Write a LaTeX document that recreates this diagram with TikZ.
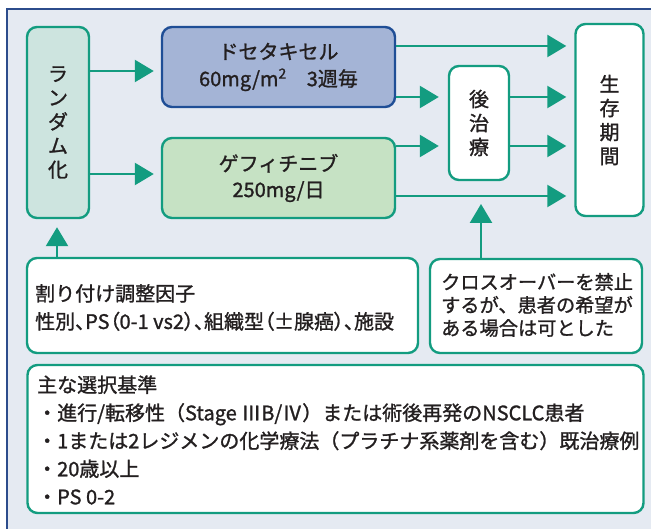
\documentclass[tikz,border=0pt]{standalone}
\usepackage{fontspec}
\setmainfont{Noto Sans CJK JP}[AutoFakeBold=1.2]
\newfontfamily\pfont{Noto Sans CJK JP}[AutoFakeBold=1.2,RawFeature=+palt]
\usetikzlibrary{arrows.meta}
\definecolor{tealc}{HTML}{139C80}
\definecolor{bgc}{HTML}{E5EAF2}
\definecolor{framec}{HTML}{2C4C8C}
\definecolor{docfill}{HTML}{A4B4D6}
\definecolor{docline}{HTML}{1F4E96}
\definecolor{geffill}{HTML}{C6E2C4}
\definecolor{randfill}{HTML}{CDE4DF}
\definecolor{txt}{HTML}{231F20}
\begin{document}
\begin{tikzpicture}[x=1pt,y=-1pt,
  box/.style={draw=tealc, line width=2.4pt, rounded corners=10pt, inner sep=0pt, anchor=center, text=txt},
  arr/.style={draw=tealc, line width=2.4pt, -{Triangle[length=19pt,width=22pt]}, shorten >=7pt},
  vert/.style={font=\fontsize{20}{24}\selectfont\bfseries, align=center},
  para/.style={anchor=west, align=left, inner sep=0pt, text=txt}
]
\useasboundingbox (0,0) rectangle (651,529);
\fill[bgc] (7,9) rectangle (651,529);
\draw[framec, line width=1.2pt] (7,529) -- (7,9) -- (651,9);

\node[box, fill=randfill, minimum width=62pt, minimum height=191pt, vert] (rand) at (58,122.5) {ラ\\ン\\ダ\\ム\\化};
\node[box, draw=docline, fill=docfill, minimum width=233pt, minimum height=80pt, align=center, font=\fontsize{20}{27}\selectfont\bfseries] (doc) at (278.5,67) {ドセタキセル\\60mg/m\textsuperscript{2}\quad 3週毎};
\node[box, fill=geffill, minimum width=233pt, minimum height=80pt, align=center, font=\fontsize{20}{26}\selectfont\bfseries] (gef) at (278.5,178) {ゲフィチニブ\\250mg/日};
\node[box, fill=white, minimum width=60pt, minimum height=114pt, vert] (post) at (479,123) {後\\治\\療};
\node[box, fill=white, minimum width=68pt, minimum height=192pt, vert] (surv) at (609.5,120) {生\\存\\期\\間};

\node[box, fill=white, minimum width=391pt, minimum height=95pt] (alloc) at (222.5,305.5) {};
\node[para, font=\fontsize{20}{28}\selectfont\bfseries] (alloct) at (35,307.5) {割り付け調整因子\\{\pfont\bfseries 性別、PS（0-1 vs2）、組織型（±腺癌）、施設}};

\node[box, fill=white, minimum width=212pt, minimum height=94pt] (cross) at (536,306) {};
\node[para, font=\fontsize{19.2}{23}\selectfont\bfseries] (crosst) at (441,305) {クロスオーバーを禁止\\するが、患者の希望が\\ある場合は可とした};

\node[box, fill=white, minimum width=616pt, minimum height=148pt] (crit) at (335.5,439) {};
\node[para, font=\fontsize{20}{28}\selectfont\bfseries] (critt) at (37,440) {主な選択基準\\・進行/転移性（Stage ⅢB/Ⅳ）または術後再発のNSCLC患者\\・1または2レジメンの化学療法（プラチナ系薬剤を含む）既治療例\\・20歳以上\\・PS 0-2};

\coordinate (crossend) at (481,204);

\draw[arr] (rand.east |- 0,71) -- (doc.west |- 0,71);
\draw[arr] (rand.east |- 0,174) -- (gef.west |- 0,174);
\draw[arr, shorten >=8pt] (doc.east |- 0,46) -- (surv.west |- 0,46);
\draw[arr, shorten >=9pt] (doc.east |- 0,97) -- (post.west |- 0,97);
\draw[arr, shorten >=9pt] (gef.east |- 0,146) -- (post.west |- 0,146);
\draw[arr, shorten >=8pt] (gef.east |- 0,196) -- (surv.west |- 0,196);
\draw[arr, shorten >=8pt] (post.east |- 0,97) -- (surv.west |- 0,97);
\draw[arr, shorten >=8pt] (post.east |- 0,146) -- (surv.west |- 0,146);
\draw[arr, shorten >=8pt] (alloc.north -| 57,0) -- (rand.south -| 57,0);
\draw[arr, shorten >=0pt] (cross.north -| crossend) -- (crossend);
\end{tikzpicture}
\end{document}
